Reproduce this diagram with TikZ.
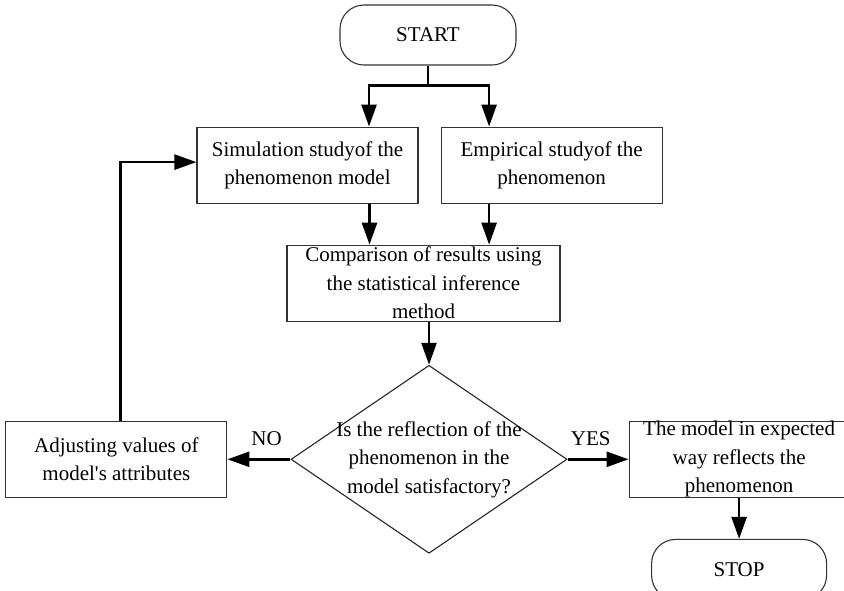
\documentclass[tikz,border=0pt]{standalone}
\usepackage{fontspec}
\setmainfont{Liberation Serif}
\usetikzlibrary{positioning,arrows.meta,shapes.geometric}

\begin{document}
\begin{tikzpicture}[font=\fontsize{21}{28.5}\selectfont, >={Triangle[length=22pt,width=15pt]}, node distance=20pt]
\tikzset{box/.style={draw=black!80, line width=1.1pt, align=center, inner sep=0pt, minimum width=221pt, minimum height=76pt},term/.style={draw=black!80, line width=1.1pt, rounded corners=24pt, minimum width=176pt, minimum height=60pt},decide/.style={draw=black!85, line width=1.1pt, diamond, inner sep=0pt, minimum width=276pt, minimum height=188pt},arrow/.style={->, line width=2.6pt},line/.style={line width=2.6pt},lbl/.style={inner sep=0pt, above=12pt}}
\useasboundingbox (0,0) rectangle (844pt,-591pt);
\node[term] (start) at (428pt,-35pt) {START};
\node[box, below=61pt of start, xshift=-120.5pt] (sim) {Simulation studyof the\\phenomenon model};
\node[box, right=22pt of sim] (emp) {Empirical studyof the\\phenomenon};
\node[box, minimum width=273pt, below=41pt of sim, xshift=116pt] (compare) {Comparison of results using\\the statistical inference\\method};
\node[decide, below=43pt of compare, xshift=5.5pt] (dec) {\raisebox{-5pt}[0pt][0pt]{\makebox[0pt]{\begin{tabular}{@{}c@{}}Is the reflection of the\\phenomenon in the\\model satisfactory?\end{tabular}}}};
\node[box, left=63pt of dec] (adjust) {Adjusting values of\\model\textquotesingle s attributes};
\node[box, minimum width=220pt, right=61pt of dec] (model) {The model in expected\\way reflects the\\phenomenon};
\node[term, minimum width=175pt, below=41pt of model] (stop) {STOP};
\coordinate (split) at ([yshift=-20pt]start.south);
\draw[line] (start) -- (split); \draw[arrow] (split) -| ([xshift=61.5pt]sim.north); \draw[arrow] (split) -| ([xshift=-62.5pt]emp.north);
\draw[arrow] ([xshift=62pt]sim.south) -- ([xshift=62pt]sim.south |- compare.north); \draw[arrow] ([xshift=-62.5pt]emp.south) -- ([xshift=-62.5pt]emp.south |- compare.north);
\draw[arrow] (compare.south -| dec.north) -- (dec.north);
\draw[arrow] (dec.west) -- node[lbl, pos=0.38]{NO} (dec.west -| adjust.east); \draw[arrow] (dec.east) -- node[lbl, pos=0.38]{YES} (dec.east -| model.west);
\draw[arrow] (model) -- (stop);
\draw[arrow] ([xshift=4pt]adjust.north) |- ([yshift=3pt]sim.west);
\end{tikzpicture}
\end{document}
